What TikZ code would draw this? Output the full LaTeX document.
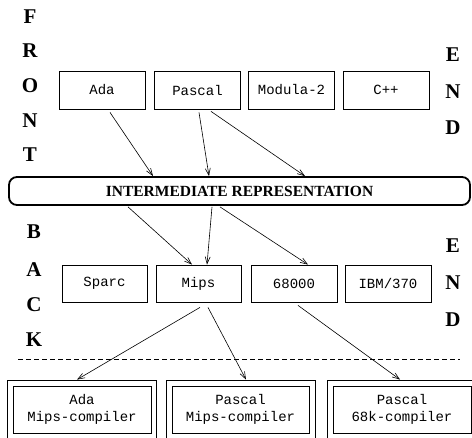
\documentclass[tikz,border=0pt]{standalone}
\usepackage{fontspec}
\setmainfont{Liberation Serif}
\setmonofont{Liberation Mono}
\usetikzlibrary{arrows.meta}
\begin{document}
\begin{tikzpicture}[x=1pt,y=-1pt,
  box/.style={draw, line width=0.8pt, inner sep=0pt, align=center,
    font=\fontsize{14}{17}\selectfont\ttfamily},
  frame/.style={draw, line width=0.8pt, inner sep=0pt},
  big/.style={font=\fontsize{21}{23}\selectfont\bfseries, inner sep=0pt},
  arr/.style={-{Straight Barb[length=7pt,width=5pt]}, line width=0.6pt}]
\useasboundingbox (0,0) rectangle (472,438);
\clip (0,0) rectangle (472,438);
% side letters
\node[big] (lf) at (30,17) {F};
\node[big] (lr) at (30,51) {R};
\node[big] (lo) at (30,86) {O};
\node[big] (ln) at (30,121) {N};
\node[big] (lt) at (30,155) {T};
\node[big] (le1) at (453,55) {E};
\node[big] (ln1) at (453,92) {N};
\node[big] (ld1) at (453,128) {D};
\node[big] (lb) at (34,232) {B};
\node[big] (la) at (34,270) {A};
\node[big] (lc) at (34,305) {C};
\node[big] (lk) at (34,340) {K};
\node[big] (le2) at (453,246) {E};
\node[big] (ln2) at (453,283) {N};
\node[big] (ld2) at (453,320) {D};
% front end boxes
\node[box, minimum width=86pt, minimum height=38pt] (ada) at (102,90) {Ada};
\node[box, minimum width=86pt, minimum height=38pt] (pascal) at (197.5,90) {Pascal};
\node[box, minimum width=86pt, minimum height=38pt] (modula) at (291.5,90) {Modula-2};
\node[box, minimum width=86pt, minimum height=38pt] (cpp) at (386,90) {C++};
% IR
\node[draw, line width=1.8pt, rounded corners=8pt, minimum width=461pt, minimum height=28pt,
  inner sep=0pt, font=\fontsize{15.5}{17}\selectfont\bfseries] (ir) at (239.5,191) {INTERMEDIATE REPRESENTATION};
% back end boxes
\node[box, minimum width=85pt, minimum height=37pt] (sparc) at (104.5,283.5) {Sparc};
\node[box, minimum width=85pt, minimum height=37pt] (mips) at (198.5,283.5) {Mips};
\node[box, minimum width=86pt, minimum height=37pt] (m68) at (294,283.5) {68000};
\node[box, minimum width=86pt, minimum height=37pt] (ibm) at (388,283.5) {IBM/370};
% dashed line
\coordinate (dl) at (18,359);
\coordinate (dr) at (460,359);
\draw[line width=0.6pt, dash pattern=on 5pt off 3pt] (dl) -- (dr);
% compilers
\node[frame, minimum width=149pt, minimum height=60pt] (adaO) at (81.5,410) {};
\node[box, minimum width=138pt, minimum height=47pt] (adaC) at (82,409.5) {Ada\\Mips-compiler};
\node[frame, minimum width=149pt, minimum height=60pt] (pasO) at (240.5,410) {};
\node[box, minimum width=137pt, minimum height=47pt] (pasC) at (240.5,409.5) {Pascal\\Mips-compiler};
\node[frame, minimum width=150pt, minimum height=60pt] (p68O) at (402,410) {};
\node[box, minimum width=138pt, minimum height=47pt] (p68C) at (402,409.5) {Pascal\\68k-compiler};
% arrows
\draw[arr] ([shift={(8,3)}]ada.south) -- ([xshift=-86.5pt]ir.north);
\draw[arr] ([shift={(1.5,3)}]pascal.south) -- ([xshift=-30.5pt]ir.north);
\draw[arr] ([shift={(13.5,2)}]pascal.south) -- ([xshift=65.5pt]ir.north);
\draw[arr] ([shift={(-111.5,1)}]ir.south) -- ([xshift=-6.5pt]mips.north);
\draw[arr] ([shift={(-27.5,1)}]ir.south) -- ([xshift=8.5pt]mips.north);
\draw[arr] ([shift={(-19.5,1)}]ir.south) -- ([xshift=14pt]m68.north);
\draw[arr] ([shift={(1.5,5)}]mips.south) -- ([xshift=-4.5pt]adaO.north);
\draw[arr] ([shift={(9.5,5)}]mips.south) -- ([xshift=5.5pt]pasO.north);
\draw[arr] ([shift={(4,3)}]m68.south) -- ([xshift=-2pt]p68O.north);
\end{tikzpicture}
\end{document}
